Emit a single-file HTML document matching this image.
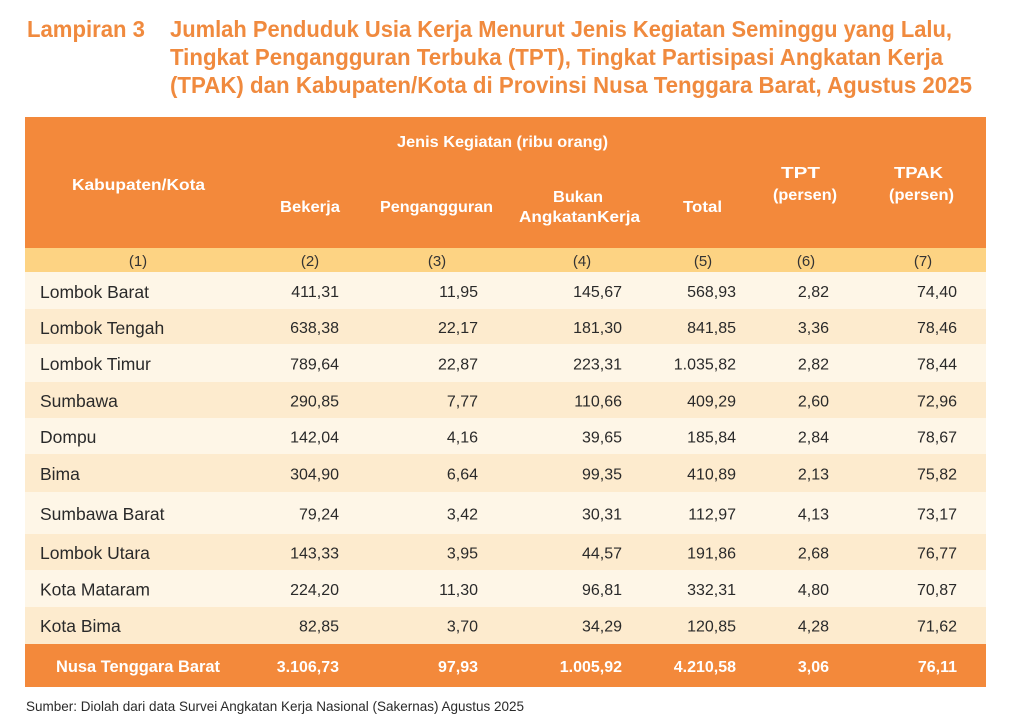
<!DOCTYPE html>
<html>
<head>
<meta charset="utf-8">
<style>
html,body{margin:0;padding:0;background:#fff;}
svg{display:block;}
text{font-family:"Liberation Sans",sans-serif;}
.t{font-weight:bold;fill:#F08A3E;font-size:23px;}
.h{font-weight:bold;fill:#fff;font-size:16px;}
.c{fill:#333;font-size:15px;text-anchor:middle;}
.n{fill:#2a2a2a;font-size:17.5px;}
.v{fill:#2a2a2a;font-size:16px;text-anchor:end;}
.b{fill:#fff;font-weight:bold;font-size:16px;text-anchor:end;}
</style>
</head>
<body>
<svg width="1009" height="726" viewBox="0 0 1009 726" xmlns="http://www.w3.org/2000/svg">
<rect x="0" y="0" width="1009" height="726" fill="#fff"/>
<!-- Title -->
<text class="t" x="27" y="37" textLength="118" lengthAdjust="spacingAndGlyphs">Lampiran 3</text>
<text class="t" x="170" y="37" textLength="782" lengthAdjust="spacingAndGlyphs">Jumlah Penduduk Usia Kerja Menurut Jenis Kegiatan Seminggu yang Lalu,</text>
<text class="t" x="170" y="65" textLength="773" lengthAdjust="spacingAndGlyphs">Tingkat Pengangguran Terbuka (TPT), Tingkat Partisipasi Angkatan Kerja</text>
<text class="t" x="170" y="93" textLength="802" lengthAdjust="spacingAndGlyphs">(TPAK) dan Kabupaten/Kota di Provinsi Nusa Tenggara Barat, Agustus 2025</text>

<!-- Header -->
<rect x="25" y="117" width="961" height="131" fill="#F3893B"/>
<rect x="25" y="248" width="961" height="24" fill="#FDD383"/>
<text class="h" x="72" y="190" textLength="133" lengthAdjust="spacingAndGlyphs">Kabupaten/Kota</text>
<text class="h" x="397" y="147" textLength="211" lengthAdjust="spacingAndGlyphs">Jenis Kegiatan (ribu orang)</text>
<text class="h" x="280" y="212" textLength="60" lengthAdjust="spacingAndGlyphs">Bekerja</text>
<text class="h" x="380" y="212" textLength="113" lengthAdjust="spacingAndGlyphs">Pengangguran</text>
<text class="h" x="553" y="202" textLength="50" lengthAdjust="spacingAndGlyphs">Bukan</text>
<text class="h" x="519" y="222" textLength="121" lengthAdjust="spacingAndGlyphs">AngkatanKerja</text>
<text class="h" x="683" y="212" textLength="39" lengthAdjust="spacingAndGlyphs">Total</text>
<text class="h" x="781" y="178" textLength="39" lengthAdjust="spacingAndGlyphs">TPT</text>
<text class="h" x="773" y="200" textLength="64" lengthAdjust="spacingAndGlyphs">(persen)</text>
<text class="h" x="894" y="178" textLength="49" lengthAdjust="spacingAndGlyphs">TPAK</text>
<text class="h" x="889" y="200" textLength="65" lengthAdjust="spacingAndGlyphs">(persen)</text>

<text class="c" x="138" y="266">(1)</text>
<text class="c" x="310" y="266">(2)</text>
<text class="c" x="437" y="266">(3)</text>
<text class="c" x="582" y="266">(4)</text>
<text class="c" x="703" y="266">(5)</text>
<text class="c" x="806" y="266">(6)</text>
<text class="c" x="923" y="266">(7)</text>

<!-- Row backgrounds -->
<rect x="25" y="272" width="961" height="37" fill="#FEF6E7"/>
<rect x="25" y="309" width="961" height="35" fill="#FDEBCE"/>
<rect x="25" y="344" width="961" height="38" fill="#FEF6E7"/>
<rect x="25" y="382" width="961" height="36" fill="#FDEBCE"/>
<rect x="25" y="418" width="961" height="36" fill="#FEF6E7"/>
<rect x="25" y="454" width="961" height="38" fill="#FDEBCE"/>
<rect x="25" y="492" width="961" height="42" fill="#FEF6E7"/>
<rect x="25" y="534" width="961" height="36" fill="#FDEBCE"/>
<rect x="25" y="570" width="961" height="37" fill="#FEF6E7"/>
<rect x="25" y="607" width="961" height="37" fill="#FDEBCE"/>
<rect x="25" y="644" width="961" height="43" fill="#F3893B"/>

<!-- Rows -->
<g>
<text class="n" x="40" y="298">Lombok Barat</text>
<text class="v" x="339" y="297">411,31</text><text class="v" x="478" y="297">11,95</text><text class="v" x="622" y="297">145,67</text><text class="v" x="736" y="297">568,93</text><text class="v" x="829" y="297">2,82</text><text class="v" x="957" y="297">74,40</text>
</g>
<g>
<text class="n" x="40" y="334">Lombok Tengah</text>
<text class="v" x="339" y="333">638,38</text><text class="v" x="478" y="333">22,17</text><text class="v" x="622" y="333">181,30</text><text class="v" x="736" y="333">841,85</text><text class="v" x="829" y="333">3,36</text><text class="v" x="957" y="333">78,46</text>
</g>
<g>
<text class="n" x="40" y="370">Lombok Timur</text>
<text class="v" x="339" y="369.5">789,64</text><text class="v" x="478" y="369.5">22,87</text><text class="v" x="622" y="369.5">223,31</text><text class="v" x="736" y="369.5">1.035,82</text><text class="v" x="829" y="369.5">2,82</text><text class="v" x="957" y="369.5">78,44</text>
</g>
<g>
<text class="n" x="40" y="407">Sumbawa</text>
<text class="v" x="339" y="406.5">290,85</text><text class="v" x="478" y="406.5">7,77</text><text class="v" x="622" y="406.5">110,66</text><text class="v" x="736" y="406.5">409,29</text><text class="v" x="829" y="406.5">2,60</text><text class="v" x="957" y="406.5">72,96</text>
</g>
<g>
<text class="n" x="40" y="443">Dompu</text>
<text class="v" x="339" y="442.5">142,04</text><text class="v" x="478" y="442.5">4,16</text><text class="v" x="622" y="442.5">39,65</text><text class="v" x="736" y="442.5">185,84</text><text class="v" x="829" y="442.5">2,84</text><text class="v" x="957" y="442.5">78,67</text>
</g>
<g>
<text class="n" x="40" y="480">Bima</text>
<text class="v" x="339" y="479.5">304,90</text><text class="v" x="478" y="479.5">6,64</text><text class="v" x="622" y="479.5">99,35</text><text class="v" x="736" y="479.5">410,89</text><text class="v" x="829" y="479.5">2,13</text><text class="v" x="957" y="479.5">75,82</text>
</g>
<g>
<text class="n" x="40" y="520">Sumbawa Barat</text>
<text class="v" x="339" y="519.5">79,24</text><text class="v" x="478" y="519.5">3,42</text><text class="v" x="622" y="519.5">30,31</text><text class="v" x="736" y="519.5">112,97</text><text class="v" x="829" y="519.5">4,13</text><text class="v" x="957" y="519.5">73,17</text>
</g>
<g>
<text class="n" x="40" y="559">Lombok Utara</text>
<text class="v" x="339" y="558.5">143,33</text><text class="v" x="478" y="558.5">3,95</text><text class="v" x="622" y="558.5">44,57</text><text class="v" x="736" y="558.5">191,86</text><text class="v" x="829" y="558.5">2,68</text><text class="v" x="957" y="558.5">76,77</text>
</g>
<g>
<text class="n" x="40" y="595.5">Kota Mataram</text>
<text class="v" x="339" y="595">224,20</text><text class="v" x="478" y="595">11,30</text><text class="v" x="622" y="595">96,81</text><text class="v" x="736" y="595">332,31</text><text class="v" x="829" y="595">4,80</text><text class="v" x="957" y="595">70,87</text>
</g>
<g>
<text class="n" x="40" y="632">Kota Bima</text>
<text class="v" x="339" y="631.5">82,85</text><text class="v" x="478" y="631.5">3,70</text><text class="v" x="622" y="631.5">34,29</text><text class="v" x="736" y="631.5">120,85</text><text class="v" x="829" y="631.5">4,28</text><text class="v" x="957" y="631.5">71,62</text>
</g>
<g>
<text class="h" x="56" y="672" style="font-size:17px" textLength="164" lengthAdjust="spacingAndGlyphs">Nusa Tenggara Barat</text>
<text class="b" x="339" y="672">3.106,73</text><text class="b" x="478" y="672">97,93</text><text class="b" x="622" y="672">1.005,92</text><text class="b" x="736" y="672">4.210,58</text><text class="b" x="829" y="672">3,06</text><text class="b" x="957" y="672">76,11</text>
</g>

<!-- Footer -->
<text x="26" y="711" style="font-size:14px;fill:#2a2a2a" textLength="498" lengthAdjust="spacingAndGlyphs">Sumber: Diolah dari data Survei Angkatan Kerja Nasional (Sakernas) Agustus 2025</text>
</svg>
</body>
</html>
